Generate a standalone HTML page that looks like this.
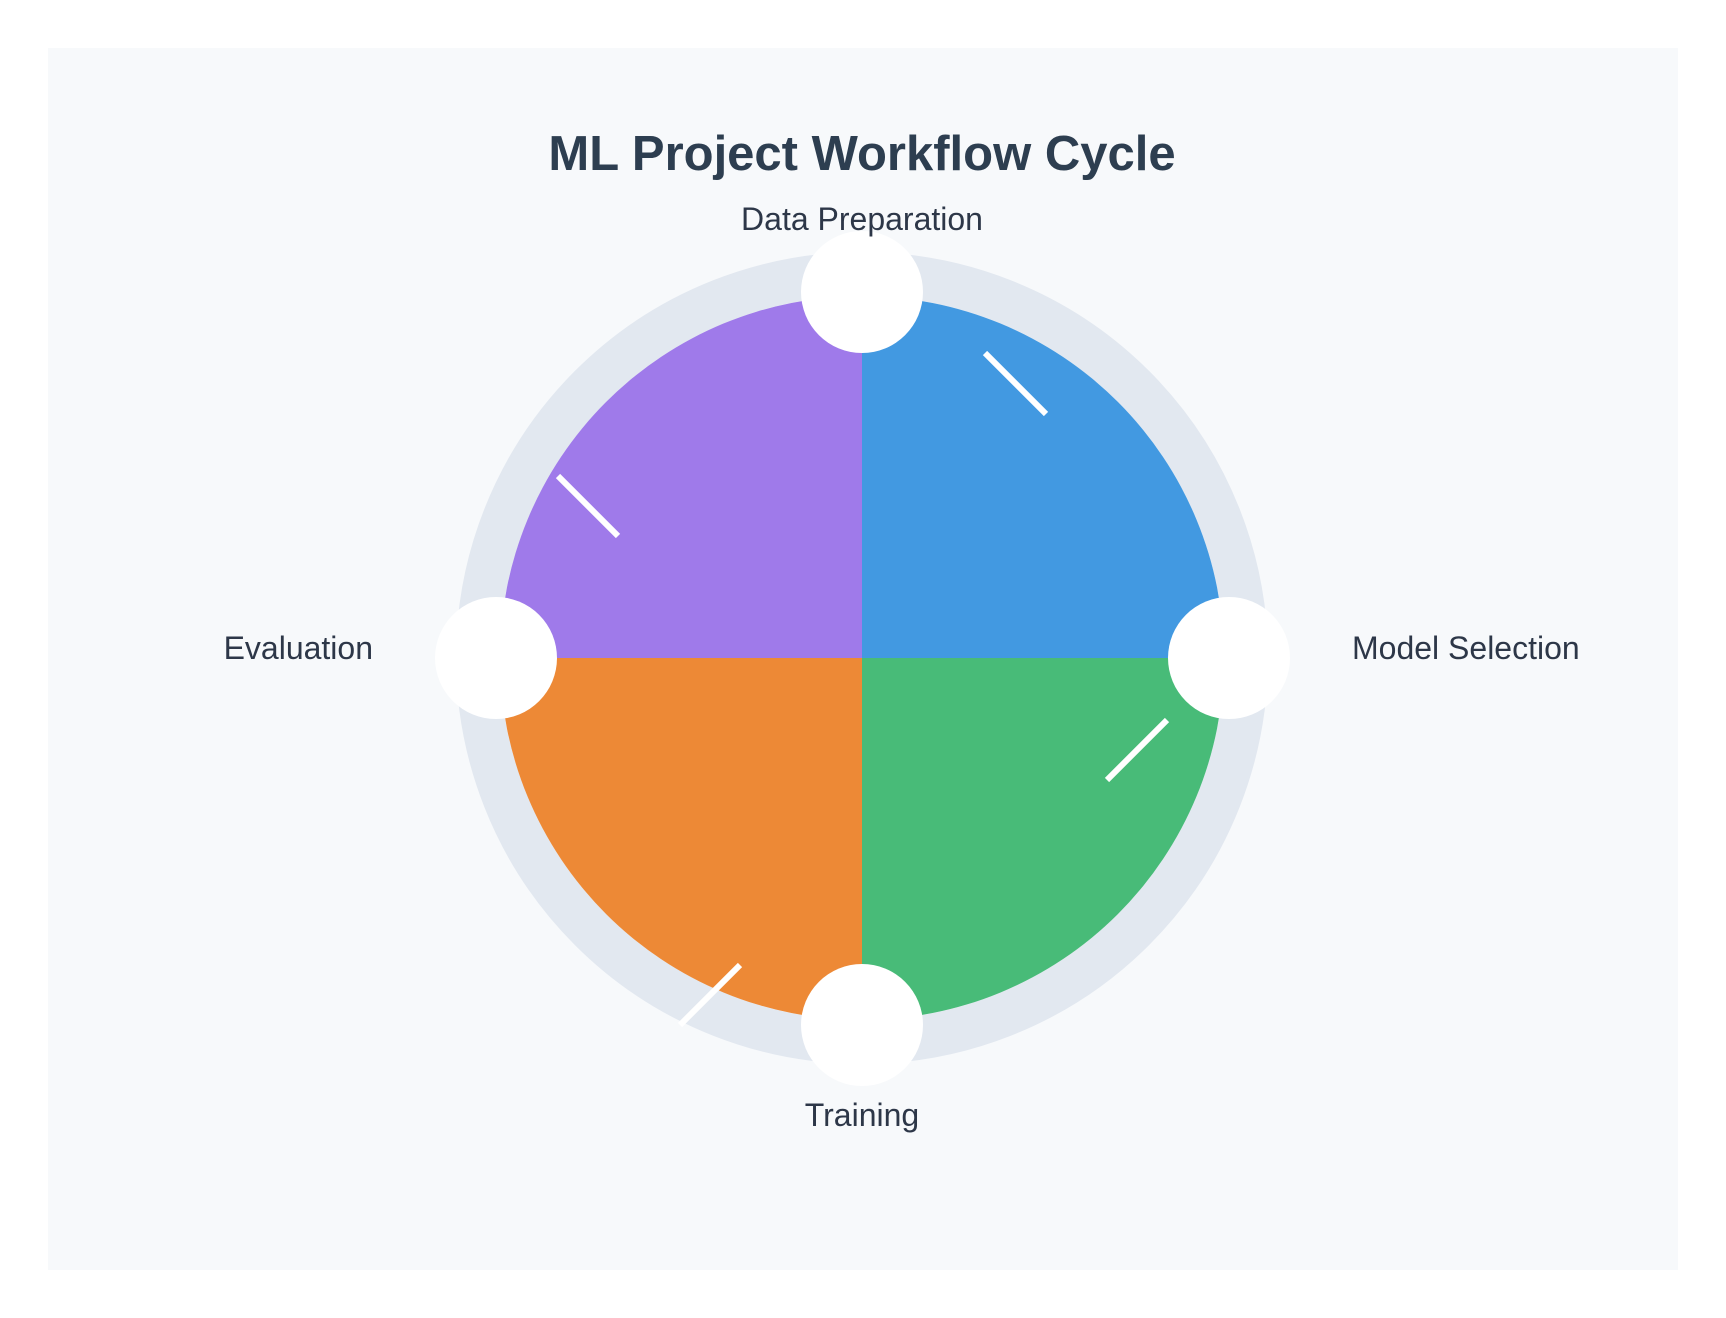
<!DOCTYPE html>
<html><head><meta charset="utf-8"><style>
html,body{margin:0;padding:0;background:#fff;}
svg{display:block;font-family:"Liberation Sans",Arial,sans-serif;}
</style></head><body>
<svg width="1726" height="1318" viewBox="0 0 1726 1318" xmlns="http://www.w3.org/2000/svg">
<rect x="48" y="48" width="1630" height="1222" fill="#f7f9fb"/>
<text x="862" y="170" text-anchor="middle" font-size="49" font-weight="bold" fill="#2d3e50">ML Project Workflow Cycle</text>
<circle cx="862" cy="658" r="384" fill="none" stroke="#e2e8f0" stroke-width="44"/>
<path d="M862 658 L862 296 A362 362 0 0 1 1224 658 Z" fill="#4299e1"/>
<path d="M862 658 L1224 658 A362 362 0 0 1 862 1020 Z" fill="#48bb78"/>
<path d="M862 658 L862 1020 A362 362 0 0 1 500 658 Z" fill="#ed8936"/>
<path d="M862 658 L500 658 A362 362 0 0 1 862 296 Z" fill="#9f7aea"/>
<g stroke="#fff" stroke-width="6">
<line x1="985" y1="353" x2="1046" y2="414"/>
<line x1="1167" y1="720" x2="1107" y2="780"/>
<line x1="740" y1="965" x2="680" y2="1025"/>
<line x1="558" y1="476" x2="618" y2="536"/>
</g>
<g fill="#fff">
<circle cx="862" cy="292" r="61"/>
<circle cx="1229" cy="658" r="61"/>
<circle cx="862" cy="1025" r="61"/>
<circle cx="496" cy="658" r="61"/>
</g>
<g font-size="32" fill="#2d3748">
<text x="862" y="230" text-anchor="middle">Data Preparation</text>
<text x="1352" y="659">Model Selection</text>
<text x="862" y="1126" text-anchor="middle">Training</text>
<text x="373" y="659" text-anchor="end">Evaluation</text>
</g>
</svg>
</body></html>
